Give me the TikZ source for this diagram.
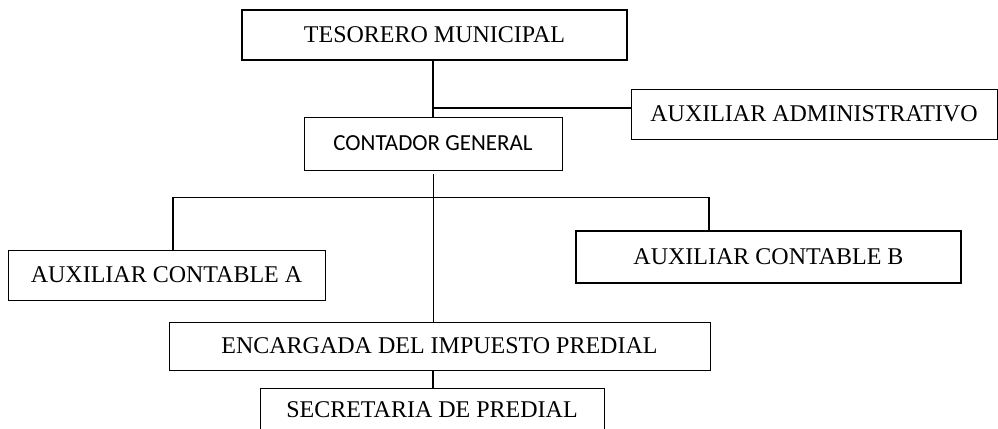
\documentclass[tikz,border=0pt]{standalone}
\usepackage{fontspec}
\setmainfont{Liberation Serif}
\newfontfamily\calibri{Carlito}
\tikzset{
  post/.style = {draw, line width=0.5pt, inner sep=0pt, font=\fontsize{12}{14}\selectfont},
  headpost/.style = {post, line width=1pt},
  link/.style = {line width=0.5pt},
  boldlink/.style = {line width=1pt}
}

\begin{document}
\begin{tikzpicture}[x=0.5pt, y=-0.5pt]
  \useasboundingbox (0,0) rectangle (998,429);
  % posts
  \node[headpost, minimum width=192.5pt, minimum height=25pt] (tesorero) at (434.5,35) {TESORERO MUNICIPAL};
  \node[post, minimum width=183pt, minimum height=25pt] (auxadm) at (814,114) {AUXILIAR ADMINISTRATIVO};
  \node[post, minimum width=129pt, minimum height=26.5pt, font=\calibri\fontsize{11.5}{14}\selectfont] (contador) at (433,143.5) {CONTADOR GENERAL};
  \node[post, minimum width=158.5pt, minimum height=25pt] (auxA) at (166.5,275) {AUXILIAR CONTABLE A};
  \node[headpost, minimum width=192.5pt, minimum height=26pt] (auxB) at (768.5,257) {AUXILIAR CONTABLE B};
  \node[post, minimum width=270.5pt, minimum height=24pt] (encargada) at (439.5,346) {ENCARGADA DEL IMPUESTO PREDIAL};
  \node[post, minimum width=172pt, minimum height=21.5pt] (secretaria) at (432,409.5) {SECRETARIA DE PREDIAL};
  % links
  \coordinate (adm) at (433,108);
  \draw[boldlink] (tesorero.south -| adm) -- (contador.north -| adm);
  \draw[boldlink] (adm) -- (adm -| auxadm.west);
  \coordinate (drop) at (433,174);
  \draw[link] (drop) -- (drop |- encargada.north);
  \coordinate (busL) at (173,197);
  \coordinate (busR) at (709,197);
  \draw[link] (busL) -- (busR);
  \draw[boldlink] (busL) -- (busL |- auxA.north);
  \draw[boldlink] (busR) -- (busR |- auxB.north);
  \draw[boldlink] (encargada.south -| drop) -- (secretaria.north -| drop);
\end{tikzpicture}
\end{document}
